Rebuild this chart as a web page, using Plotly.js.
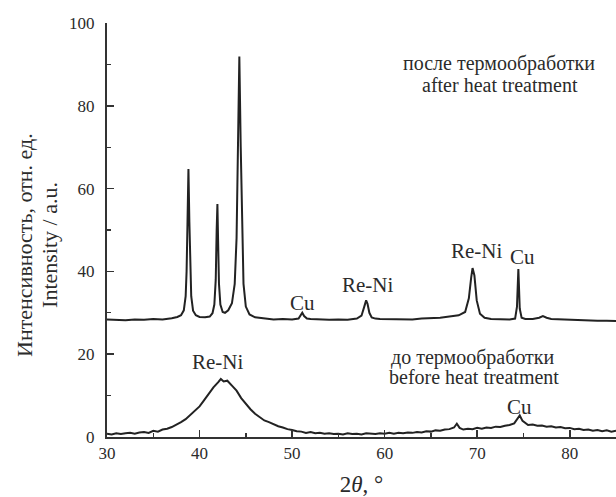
<!DOCTYPE html>
<html>
<head>
<meta charset="utf-8">
<script src="https://cdn.plot.ly/plotly-3.0.1.min.js"></script>
<style>html,body{margin:0;padding:0;background:#fff;}#chart{width:616px;height:497px;}</style>
</head>
<body>
<div id="chart"></div>
<script>
// After heat treatment (upper pattern)
const afterX = [30,31,32,33,34,35,36,37,37.6,38.0,38.3,38.5,38.6,38.7,38.8,38.9,39.0,39.1,39.3,39.6,40.0,40.6,41.1,41.4,41.6,41.75,41.85,41.93,42.0,42.1,42.25,42.5,42.75,43.1,43.5,43.8,44.0,44.15,44.3,44.45,44.6,44.75,45.0,45.4,46,47,48,49,50,50.7,50.9,51.1,51.3,51.6,52,53,54,55,56,57.0,57.5,57.8,58.0,58.15,58.35,58.6,59.0,59.5,61,62,63,64,65,66,67,68,68.7,69.1,69.35,69.5,69.7,69.95,70.3,70.8,71.5,72.5,73.5,74.1,74.3,74.45,74.6,74.8,75.2,76,76.7,77.1,77.5,78,79,80,81,82,83,84,85];
const afterY = [28.4,28.3,28.2,28.4,28.3,28.5,28.4,28.7,29.0,29.4,30.6,34.0,40.0,52.0,64.7,52.0,40.0,34.0,30.5,29.4,29.0,28.9,29.1,29.9,32.0,38.0,50.0,56.3,48.0,37.0,32.0,30.2,30.0,30.6,32.3,37.0,48.0,70.0,91.9,70.0,48.0,37.0,31.5,29.6,28.9,28.6,28.4,28.5,28.4,28.6,29.3,30.0,29.2,28.6,28.5,28.4,28.3,28.4,28.3,28.6,29.3,31.5,33.0,32.2,30.0,28.9,28.6,28.5,28.4,28.5,28.4,28.6,28.7,28.8,29.1,29.4,30.2,33.5,38.5,40.8,39.0,33.0,29.8,28.8,28.5,28.4,28.4,28.6,31.5,40.6,31.0,28.8,28.5,28.5,28.8,29.2,28.8,28.5,28.4,28.3,28.2,28.2,28.1,28.1,28.0];

// Before heat treatment (lower pattern)
const beforeX = [30,30.5,31,31.5,32,32.5,33,33.5,34,34.5,35,35.5,36,36.5,37,37.5,38,38.5,39,39.5,40,40.5,41,41.5,42,42.3,42.6,43,43.5,44,44.5,45,45.5,46,46.5,47,47.5,48,48.5,49,49.5,50,50.5,51,51.5,52,52.5,53,53.5,54,54.5,55,55.5,56,56.5,57,57.5,58,58.5,59,59.5,60,60.5,61,61.5,62,62.5,63,63.5,64,64.5,65,65.5,66,66.5,67,67.5,67.8,68.1,68.5,69,69.5,70,70.5,71,71.5,72,72.5,73,73.5,74,74.3,74.6,74.9,75.3,75.5,76,76.5,77,77.5,78,78.5,79,79.5,80,80.5,81,81.5,82,82.5,83,83.5,84,84.5,85];
const beforeY = [0.8,0.6,0.9,0.7,0.9,1.0,0.8,1.1,1.2,1.0,1.5,1.3,1.8,2.0,2.4,2.9,3.6,4.3,5.4,6.3,7.4,8.9,10.5,12.0,13.2,14.0,13.4,13.6,12.4,11.2,9.4,7.9,6.7,5.6,4.8,4.0,3.6,3.0,2.6,2.3,1.9,1.7,1.4,1.3,1.0,1.2,0.9,1.0,0.8,0.9,0.7,0.8,0.6,0.9,0.7,0.8,0.6,0.9,0.8,0.7,0.9,0.8,1.0,0.8,1.0,0.9,1.1,1.0,1.2,1.1,1.4,1.3,1.6,1.5,1.8,1.9,2.3,3.2,2.2,1.8,2.0,1.9,2.2,2.0,2.3,2.2,2.5,2.4,2.7,2.9,3.3,4.3,5.2,3.9,3.1,2.9,3.0,2.7,2.8,2.5,2.6,2.3,2.4,2.1,2.2,1.9,2.0,1.7,1.8,1.5,1.7,1.4,1.6,1.3,1.5];

// Labels
const labelText = ["Re-Ni","Cu","Re-Ni","Re-Ni","Cu","после термообработки","after heat treatment","Re-Ni","до термообработки","before heat treatment","Cu"];
const labelX = [43.8,51.1,58.2,69.9,74.9,72.4,72.5,41.9,69.6,69.7,74.6];
const labelY = [101.8,32.4,36.7,45.0,43.5,90.3,85.0,18.0,19.1,14.6,7.2];
const labelSize = [21,21,21,21,21,20,20,21,20,20,21];

// Y-axis title lines
const yTitleLines = ["Интенсивность, отн. ед.","Intensity / a.u."];

const serif = "'Liberation Serif', 'Times New Roman', serif";
const ink = "#2b2b2b";
const lineStyle = {color:"#222", width:2};

const traces = [
  {x: afterX, y: afterY, type:"scatter", mode:"lines", line: lineStyle, hoverinfo:"skip"},
  {x: beforeX, y: beforeY, type:"scatter", mode:"lines", line: lineStyle, hoverinfo:"skip"}
];

const annotations = labelText.map((t,i)=>({
  x: labelX[i], y: labelY[i], xref:"x", yref:"y", text: t, showarrow:false,
  font:{family: serif, size: labelSize[i], color: ink},
  xanchor:"center", yanchor:"middle"
}));
const yTitleX = [-0.161, -0.112];
yTitleLines.forEach((t,i)=>annotations.push({
  x: yTitleX[i], y: 0.464, xref:"paper", yref:"paper", text: t, showarrow:false,
  textangle:-90, font:{family: serif, size:22, color: ink},
  xanchor:"center", yanchor:"middle"
}));

const layout = {
  width:616, height:497,
  margin:{l:107, r:0, t:23, b:60},
  paper_bgcolor:"#fff", plot_bgcolor:"#fff",
  showlegend:false,
  font:{family: serif, color: ink},
  xaxis:{
    range:[30,85], dtick:10, tick0:30,
    showgrid:false, zeroline:false,
    showline:true, linecolor:"#333", linewidth:2,
    ticks:"inside", ticklen:7, tickwidth:1.6, tickcolor:"#333",
    minor:{dtick:5, ticks:"inside", ticklen:4, tickwidth:1.4, tickcolor:"#333", showgrid:false},
    tickfont:{family: serif, size:17, color: ink},
    title:{text:"2<i>θ</i>, °", font:{family: serif, size:23, color: ink}, standoff:14}
  },
  yaxis:{
    range:[0,100], dtick:20,
    showgrid:false, zeroline:false,
    showline:true, linecolor:"#333", linewidth:2,
    ticks:"inside", ticklen:7, tickwidth:1.6, tickcolor:"#333",
    minor:{dtick:10, ticks:"inside", ticklen:4, tickwidth:1.4, tickcolor:"#333", showgrid:false},
    tickfont:{family: serif, size:17, color: ink},
    ticklabelstandoff:7
  },
  annotations: annotations
};

Plotly.newPlot("chart", traces, layout, {staticPlot:true, displayModeBar:false});
</script>
</body>
</html>
